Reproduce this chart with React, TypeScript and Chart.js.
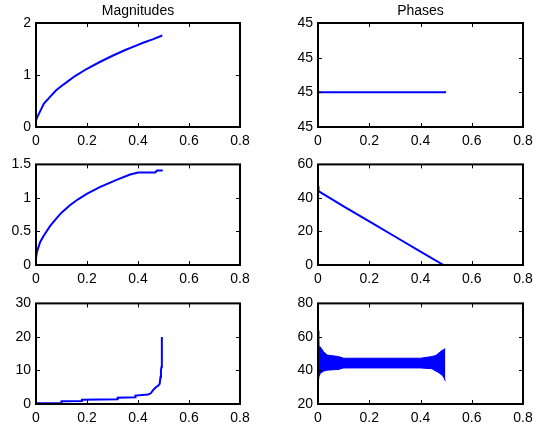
import React, { useEffect, useRef } from "react";
import { Chart, registerables } from "chart.js";

Chart.register(...registerables);

// ---------- data ----------
const xTickValues = [0, 0.2, 0.4, 0.6, 0.8];

// Magnitudes (row 1)
const mag1X = [0, 0.004, 0.016, 0.031, 0.055, 0.078, 0.1, 0.114, 0.153, 0.2, 0.25, 0.3, 0.35, 0.395, 0.42, 0.46, 0.495];
const mag1Y = [0.12, 0.18, 0.3, 0.45, 0.58, 0.7, 0.79, 0.84, 0.98, 1.12, 1.25, 1.37, 1.48, 1.57, 1.62, 1.69, 1.76];
const mag1YTicks = [0, 1, 2];

// Phases (row 1)
const ph1X = [0, 0.5];
const ph1Y = [45, 45];
const ph1YTicks = [44.97, 45, 45.03, 45.06];

// Magnitudes (row 2)
const mag2X = [0, 0.004, 0.016, 0.029, 0.055, 0.081, 0.1, 0.133, 0.165, 0.199, 0.25, 0.316, 0.369, 0.401, 0.467, 0.475, 0.497];
const mag2Y = [0.1, 0.2, 0.34, 0.43, 0.58, 0.7, 0.78, 0.89, 0.98, 1.06, 1.16, 1.27, 1.35, 1.38, 1.38, 1.41, 1.41];
const mag2YTicks = [0, 0.5, 1, 1.5];

// Phases (row 2)
const ph2X = [0, 0.002, 0.1, 0.2, 0.3, 0.4, 0.49];
const ph2Y = [47, 44, 35, 26, 17, 8, 0];
const ph2YTicks = [0, 20, 40, 60];

// Magnitudes (row 3)
const mag3X = [0, 0.005, 0.1, 0.1, 0.18, 0.18, 0.32, 0.32, 0.39, 0.39, 0.44, 0.45, 0.46, 0.47, 0.48, 0.485, 0.488, 0.49, 0.492, 0.493, 0.494];
const mag3Y = [0, 0.25, 0.3, 0.8, 0.9, 1.3, 1.4, 1.9, 2.0, 2.5, 2.8, 3.2, 4.2, 5, 5.5, 6, 8, 10, 11, 15, 20];
const mag3YTicks = [0, 10, 20, 30];

// Phases (row 3): oscillation envelope
const ph3X = [0, 0.003, 0.009, 0.022, 0.035, 0.08, 0.1, 0.2, 0.3, 0.4, 0.445, 0.46, 0.47, 0.485, 0.49, 0.497];
const ph3Upper = [63.7, 55, 54, 51.2, 49.2, 48.3, 47.3, 47.3, 47.3, 47.3, 48.3, 49, 50.2, 52, 52.5, 53];
const ph3Lower = [34.8, 36, 38.3, 39.6, 40.2, 40.6, 41.5, 41.5, 41.5, 41.5, 41, 39.6, 38.8, 37.1, 36, 33.8];
const ph3YTicks = [20, 40, 60, 80];

// ---------- styling ----------
const FONT = "'Liberation Sans', Arial, Helvetica, sans-serif";
const BLUE = "#0000ff";
const LEFT_SPACE = 36;
const RIGHT_SPACE = 18;
const BOTTOM_SPACE = 26;

const pts = (xs: number[], ys: number[]) => xs.map((x, i) => ({ x, y: ys[i] }));

const boxPlugin = {
  id: "matlabBox",
  afterDraw(chart: any) {
    const { ctx, chartArea: a, scales } = chart;
    const tl = 4;
    ctx.save();
    ctx.strokeStyle = "#000";
    ctx.lineWidth = 1;
    ctx.beginPath();
    scales.x.ticks.forEach((t: any) => {
      const px = Math.round(scales.x.getPixelForValue(t.value)) + 0.5;
      ctx.moveTo(px, a.bottom);
      ctx.lineTo(px, a.bottom - tl);
      ctx.moveTo(px, a.top);
      ctx.lineTo(px, a.top + tl);
    });
    scales.y.ticks.forEach((t: any) => {
      const py = Math.round(scales.y.getPixelForValue(t.value)) + 0.5;
      ctx.moveTo(a.left, py);
      ctx.lineTo(a.left + tl, py);
      ctx.moveTo(a.right, py);
      ctx.lineTo(a.right - tl, py);
    });
    ctx.stroke();
    ctx.lineWidth = 2;
    ctx.strokeRect(a.left, a.top, a.right - a.left, a.bottom - a.top);
    ctx.restore();
  },
};

type PanelProps = {
  plotLeft: number;
  plotTop: number;
  plotW: number;
  plotH: number;
  title?: string;
  datasets: any[];
  yTicks: number[];
  yFmt: (v: number) => string;
};

function Panel({ plotLeft, plotTop, plotW, plotH, title, datasets, yTicks, yFmt }: PanelProps) {
  const ref = useRef<HTMLCanvasElement | null>(null);
  const padTop = title ? 23 : 10;
  const cw = LEFT_SPACE + plotW + RIGHT_SPACE;
  const ch = padTop + plotH + BOTTOM_SPACE;

  useEffect(() => {
    if (!ref.current) return;
    const tickFont = { family: FONT, size: 14 };
    const chart = new Chart(ref.current, {
      type: "line",
      data: { datasets },
      plugins: [boxPlugin],
      options: {
        animation: false,
        responsive: false,
        maintainAspectRatio: false,
        devicePixelRatio: 1,
        layout: {
          autoPadding: false,
          padding: { top: title ? 0 : padTop, right: RIGHT_SPACE, left: 0, bottom: 0 },
        },
        plugins: {
          legend: { display: false },
          tooltip: { enabled: false },
          title: title
            ? {
                display: true,
                text: title,
                color: "#000",
                font: { family: FONT, size: 14, weight: "normal", lineHeight: 1.2 },
                padding: { top: 2.5, bottom: 3.7 },
                fullSize: false,
              }
            : { display: false },
        },
        scales: {
          x: {
            type: "linear",
            min: 0,
            max: 0.8,
            afterBuildTicks: (s: any) => {
              s.ticks = xTickValues.map((v) => ({ value: v }));
            },
            afterFit: (s: any) => {
              s.height = BOTTOM_SPACE;
            },
            grid: { display: false, drawTicks: false },
            border: { display: false },
            ticks: {
              padding: 6,
              color: "#000",
              font: tickFont,
              maxRotation: 0,
              autoSkip: false,
              callback: (v: any) => String(Number(Number(v).toFixed(1))),
            },
          },
          y: {
            type: "linear",
            min: yTicks[0],
            max: yTicks[yTicks.length - 1],
            afterBuildTicks: (s: any) => {
              s.ticks = yTicks.map((v) => ({ value: v }));
            },
            afterFit: (s: any) => {
              s.width = LEFT_SPACE;
            },
            grid: { display: false, drawTicks: false },
            border: { display: false },
            ticks: {
              padding: 5,
              color: "#000",
              font: tickFont,
              autoSkip: false,
              callback: (v: any) => yFmt(Number(v)),
            },
          },
        },
      } as any,
    });
    return () => chart.destroy();
  }, []);

  return (
    <canvas
      ref={ref}
      width={cw}
      height={ch}
      style={{
        position: "absolute",
        left: plotLeft - LEFT_SPACE,
        top: plotTop - padTop,
        width: cw,
        height: ch,
        display: "block",
      }}
    />
  );
}

const lineDs = (xs: number[], ys: number[]) => ({
  data: pts(xs, ys),
  borderColor: BLUE,
  backgroundColor: BLUE,
  borderWidth: 2,
  pointRadius: 0,
  fill: false,
  tension: 0,
});

const numFmt = (v: number) => String(Number(v.toFixed(2)));

export default function App() {
  const colL = 36;
  const colR = 318;
  const rows = [23, 161, 300];
  const wL = 204;
  const wR = 205;
  const h = 104;

  return (
    <div
      style={{
        position: "absolute",
        left: 0,
        top: 0,
        width: 545,
        height: 429,
        background: "#fff",
        overflow: "hidden",
      }}
    >
      <Panel plotLeft={colL} plotTop={rows[0]} plotW={wL} plotH={h} title="Magnitudes"
        datasets={[lineDs(mag1X, mag1Y)]} yTicks={mag1YTicks} yFmt={numFmt} />
      <Panel plotLeft={colR} plotTop={rows[0]} plotW={wR} plotH={h} title="Phases"
        datasets={[lineDs(ph1X, ph1Y)]} yTicks={ph1YTicks} yFmt={(v) => String(Math.round(v))} />
      <Panel plotLeft={colL} plotTop={rows[1]} plotW={wL} plotH={h}
        datasets={[lineDs(mag2X, mag2Y)]} yTicks={mag2YTicks} yFmt={numFmt} />
      <Panel plotLeft={colR} plotTop={rows[1]} plotW={wR} plotH={h}
        datasets={[lineDs(ph2X, ph2Y)]} yTicks={ph2YTicks} yFmt={numFmt} />
      <Panel plotLeft={colL} plotTop={rows[2]} plotW={wL} plotH={h}
        datasets={[lineDs(mag3X, mag3Y)]} yTicks={mag3YTicks} yFmt={numFmt} />
      <Panel plotLeft={colR} plotTop={rows[2]} plotW={wR} plotH={h}
        datasets={[
          { ...lineDs(ph3X, ph3Upper), borderWidth: 1 },
          { ...lineDs(ph3X, ph3Lower), borderWidth: 1, fill: "-1" },
        ]}
        yTicks={ph3YTicks} yFmt={numFmt} />
    </div>
  );
}
